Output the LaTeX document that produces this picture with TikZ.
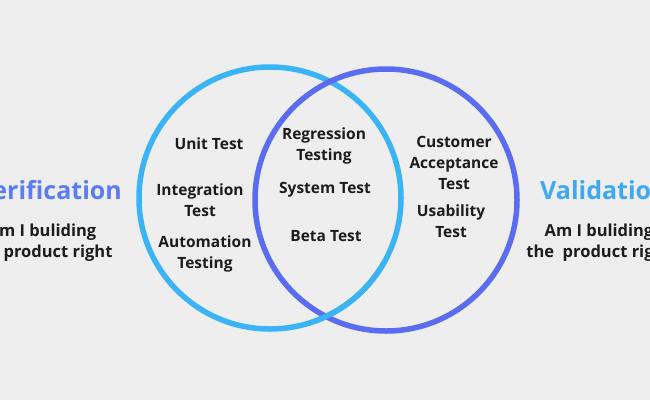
\documentclass[tikz,border=0pt]{standalone}
\usepackage{fontspec}
\setmainfont{Open Sans}
\definecolor{bg}{HTML}{EEEEEF}
\definecolor{lb}{HTML}{3BB4F7}
\definecolor{pb}{HTML}{5A6CF2}
\definecolor{vt}{HTML}{5A7CF7}
\definecolor{vl}{HTML}{3DA8F6}
\definecolor{tx}{HTML}{1C1C1C}
\begin{document}
\begin{tikzpicture}[x=1pt,y=-1pt,
  lbl/.style={font=\bfseries\fontsize{15.5}{21}\selectfont,text=tx,align=center,inner sep=0pt},
  big/.style={font=\bfseries\fontsize{25}{30}\selectfont,inner sep=0pt},
  ring/.style={line width=5.5pt,fill=none}]
\clip (0,0) rectangle (650,400);
\fill[bg] (0,0) rectangle (650,400);
\draw[ring,draw=lb] (270,198) circle (131);
\draw[ring,draw=pb] (386,200) circle (131);
\draw[ring,draw=lb] (270,198) ++(30:131) arc[start angle=30,end angle=70,radius=131];
\node[lbl] (unit) at (209,144) {Unit Test};
\node[lbl] (integ) at (200,200) {Integration\\Test};
\node[lbl] (auto) at (205,254) {Automation\\Testing};
\node[lbl] (reg) at (324,146) {Regression\\Testing};
\node[lbl] (sys) at (325,190) {System Test};
\node[lbl] (beta) at (326,236) {Beta Test};
\node[lbl] (cust) at (454,163) {Customer\\Acceptance\\Test};
\node[lbl] (usab) at (451,221) {Usability\\Test};
\node[big,text=vt,anchor=east] (ver) at (122,190) {Verification};
\node[big,text=vl,anchor=west] (val) at (540,190) {Validation};
\node[lbl,font=\bfseries\fontsize{16.5}{21}\selectfont] (q1) at (42,243) {Am I buliding\\the product right};
\node[lbl,font=\bfseries\fontsize{16.5}{21}\selectfont] (q2) at (599,243) {Am I buliding\\the\ \ product right};
\end{tikzpicture}
\end{document}
